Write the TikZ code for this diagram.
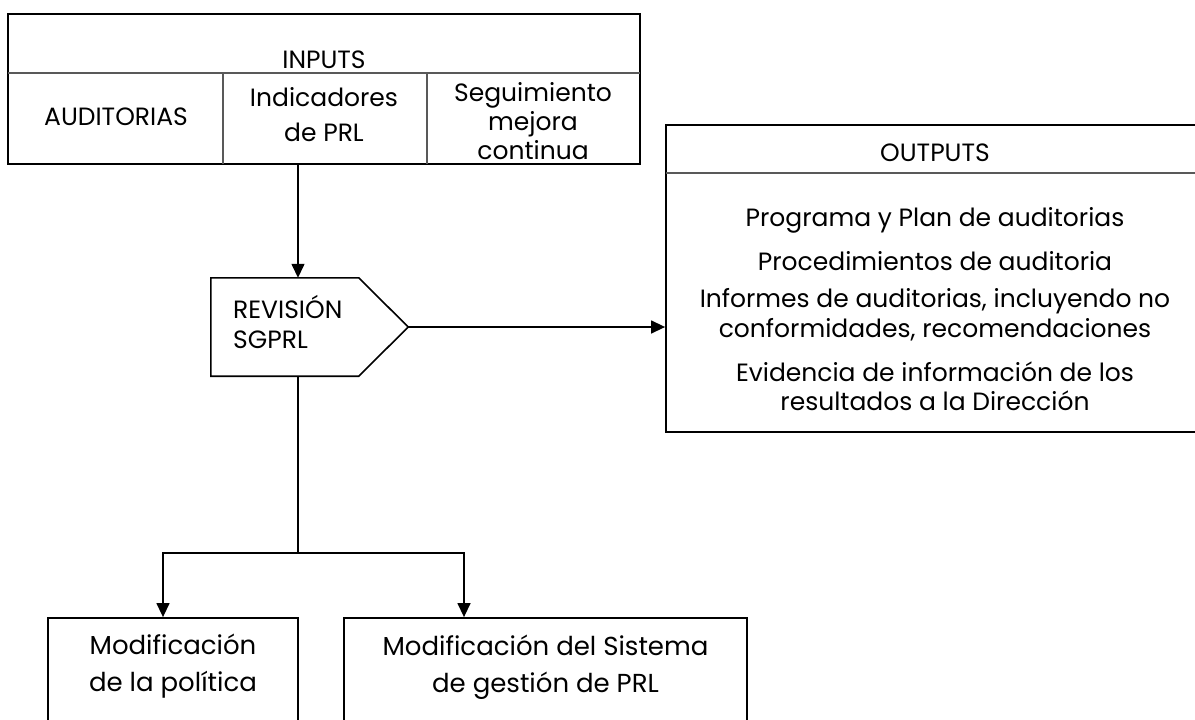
\documentclass[tikz,border=0pt]{standalone}
\usepackage{fontspec}
\setmainfont{Poppins}
\usetikzlibrary{arrows.meta}
\begin{document}
\begin{tikzpicture}[x=1pt,y=-1pt,
  frame/.style={draw,line width=1.8pt,inner sep=0pt,rectangle},
  sep/.style={line width=1.2pt,black!65},
  conn/.style={line width=1.4pt},
  arr/.style={conn,-{Triangle[length=14pt,width=13pt]}},
  ghost/.style={inner sep=0pt,rectangle},
  txt/.style={font=\fontsize{25}{30}\selectfont,align=center,inner sep=0pt}]
\useasboundingbox (0,0) rectangle (1195,720);
\clip (0,0) rectangle (1195,720);
% INPUTS box
\node[frame,minimum width=632pt,minimum height=150pt] (in) at (324,89) {};
\draw[sep] (8,73) -- (640,73);
\draw[sep] (223,73) -- (223,164);
\draw[sep] (427,73) -- (427,164);
\node[txt] (tin) at (324,60) {INPUTS};
\node[txt] (taud) at (116,117) {AUDITORIAS};
\node[txt,font=\fontsize{25}{35}\selectfont] (tind) at (324,115) {Indicadores\\de PRL};
\node[txt,font=\fontsize{25}{29}\selectfont] (tseg) at (533,121) {Seguimiento\\mejora\\continua};
% REVISION shape
\node[ghost,minimum width=197pt,minimum height=98pt] (rev) at (309.5,327) {};
\draw[line width=1.6pt] (rev.north west) -- ([xshift=148pt]rev.north west) -- (rev.east)
  -- ([xshift=148pt]rev.south west) -- (rev.south west) -- cycle;
\node[txt,anchor=west] (trev1) at (233,307) {REVISIÓN};
\node[txt,anchor=west] (trev2) at (233,340) {SGPRL};
% OUTPUTS box
\node[frame,minimum width=534pt,minimum height=307pt] (out) at (933,278.5) {};
\draw[sep] (666,173) -- (1200,173);
\node[txt] (tout) at (935,153) {OUTPUTS};
\node[txt] (o1) at (935,220) {Programa y Plan de auditorias};
\node[txt] (o2) at (935,261) {Procedimientos de auditoria};
\node[txt,font=\fontsize{25}{30}\selectfont] (o3) at (935,315) {Informes de auditorias, incluyendo no\\conformidades, recomendaciones};
\node[txt,font=\fontsize{25}{29}\selectfont] (o4) at (935,386) {Evidencia de información de los\\resultados a la Dirección};
% bottom boxes
\node[frame,minimum width=250pt,minimum height=120pt] (mp) at (173,678) {};
\node[frame,minimum width=403pt,minimum height=120pt] (ms) at (545.5,678) {};
\node[txt,font=\fontsize{26}{37}\selectfont] (tmp) at (173,666) {Modificación\\de la política};
\node[txt,font=\fontsize{26}{37}\selectfont] (tms) at (545.5,667) {Modificación del Sistema\\de gestión de PRL};
% connectors
\coordinate (ax) at (298,0);
\coordinate (br) at (298,553);
\coordinate (l) at (163,553);
\coordinate (r) at (464,553);
\draw[arr] (in.south -| ax) -- (rev.north -| ax);
\draw[arr] (rev.east) -- (rev.east -| out.west);
\draw[conn] (rev.south -| ax) -- (br);
\draw[arr] (br) -- (l) -- (l |- mp.north);
\draw[arr] (br) -- (r) -- (r |- ms.north);
\end{tikzpicture}
\end{document}
